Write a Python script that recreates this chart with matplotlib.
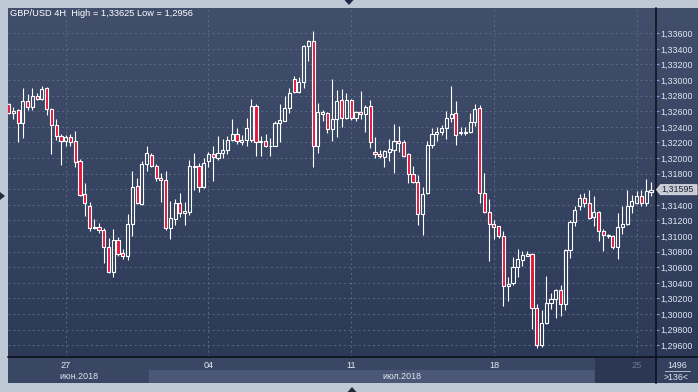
import matplotlib
matplotlib.use("Agg")
import matplotlib.pyplot as plt
from matplotlib.patches import Rectangle, Polygon
from matplotlib.lines import Line2D
from matplotlib.transforms import IdentityTransform
from matplotlib.ticker import FuncFormatter
import numpy as np

plt.rcParams['font.family'] = ['Liberation Sans', 'DejaVu Sans']

# ---------------- data (GBP/USD 4H candles) ----------------
opens = [1.3269, 1.3258, 1.3262, 1.3245, 1.3273, 1.3265, 1.3280, 1.3276, 1.3290, 1.3263,
         1.3242, 1.3228, 1.3222, 1.3227, 1.3222, 1.3196, 1.3154, 1.3139, 1.3111, 1.3112,
         1.3108, 1.3086, 1.3054, 1.3095, 1.3078, 1.3074, 1.3115, 1.3164, 1.3141, 1.3192,
         1.3204, 1.3190, 1.3175, 1.3172, 1.3111, 1.3122, 1.3143, 1.3129, 1.3131, 1.3189,
         1.3190, 1.3163, 1.3196, 1.3205, 1.3200, 1.3206, 1.3210, 1.3223, 1.3231, 1.3221,
         1.3223, 1.3223, 1.3267, 1.3221, 1.3222, 1.3215, 1.3216, 1.3245, 1.3248, 1.3264,
         1.3301, 1.3285, 1.3297, 1.3344, 1.3350, 1.3215, 1.3257, 1.3258, 1.3237, 1.3250,
         1.3275, 1.3251, 1.3275, 1.3252, 1.3259, 1.3257, 1.3267, 1.3208, 1.3205, 1.3202,
         1.3208, 1.3211, 1.3222, 1.3221, 1.3205, 1.3179, 1.3169, 1.3128, 1.3155, 1.3217,
         1.3231, 1.3234, 1.3238, 1.3252, 1.3258, 1.3232, 1.3232, 1.3233, 1.3246, 1.3264,
         1.3155, 1.3131, 1.3116, 1.3113, 1.3100, 1.3036, 1.3040, 1.3060, 1.3069, 1.3075,
         1.3077, 1.3008, 1.2961, 1.2988, 1.3014, 1.3019, 1.3031, 1.3013, 1.3082, 1.3118,
         1.3139, 1.3149, 1.3143, 1.3124, 1.3131, 1.3106, 1.3100, 1.3100, 1.3086, 1.3112,
         1.3116, 1.3139, 1.3143, 1.3151, 1.3143, 1.3157]
highs = [1.3271, 1.3265, 1.3263, 1.3290, 1.3282, 1.3290, 1.3283, 1.3292, 1.3291, 1.3264,
         1.3250, 1.3231, 1.3230, 1.3231, 1.3235, 1.3199, 1.3168, 1.3144, 1.3122, 1.3117,
         1.3110, 1.3097, 1.3109, 1.3099, 1.3084, 1.3128, 1.3183, 1.3174, 1.3196, 1.3216,
         1.3207, 1.3193, 1.3181, 1.3183, 1.3145, 1.3148, 1.3155, 1.3144, 1.3198, 1.3206,
         1.3194, 1.3200, 1.3208, 1.3216, 1.3228, 1.3224, 1.3228, 1.3250, 1.3238, 1.3230,
         1.3252, 1.3276, 1.3269, 1.3228, 1.3231, 1.3226, 1.3248, 1.3269, 1.3280, 1.3290,
         1.3305, 1.3304, 1.3345, 1.3351, 1.33625, 1.3270, 1.3262, 1.3259, 1.3301, 1.3287,
         1.3289, 1.3283, 1.3276, 1.3260, 1.3286, 1.3268, 1.3275, 1.3227, 1.3210, 1.3210,
         1.3225, 1.3244, 1.3241, 1.3223, 1.3207, 1.3190, 1.3178, 1.3163, 1.3222, 1.3238,
         1.3240, 1.3243, 1.3260, 1.3292, 1.3273, 1.3240, 1.3240, 1.3258, 1.3269, 1.3268,
         1.3181, 1.3147, 1.3121, 1.3113, 1.3107, 1.3047, 1.3073, 1.3083, 1.3081, 1.3081,
         1.3078, 1.3013, 1.3005, 1.3049, 1.3027, 1.3032, 1.3037, 1.3083, 1.3121, 1.3139,
         1.3154, 1.3155, 1.3159, 1.3151, 1.3132, 1.3109, 1.3103, 1.3101, 1.3129, 1.3139,
         1.3159, 1.3153, 1.3158, 1.3159, 1.3173, 1.3169]
lows = [1.3257, 1.3250, 1.3221, 1.3226, 1.3262, 1.3262, 1.3275, 1.3275, 1.3255, 1.3205,
        1.3223, 1.3191, 1.3215, 1.3216, 1.3189, 1.3151, 1.3126, 1.3106, 1.3109, 1.3104,
        1.3065, 1.3053, 1.3048, 1.3074, 1.3070, 1.3069, 1.3100, 1.3141, 1.3140, 1.3183,
        1.3189, 1.3171, 1.3144, 1.3108, 1.3096, 1.3114, 1.3125, 1.3114, 1.3127, 1.3159,
        1.3156, 1.3162, 1.3189, 1.3171, 1.3198, 1.3200, 1.3205, 1.3222, 1.3218, 1.3217,
        1.3216, 1.3221, 1.3203, 1.3203, 1.3214, 1.3203, 1.3215, 1.3220, 1.3247, 1.3258,
        1.3283, 1.3284, 1.3290, 1.3325, 1.3189, 1.3206, 1.3247, 1.3232, 1.3222, 1.3227,
        1.3240, 1.3250, 1.3249, 1.3248, 1.3250, 1.3234, 1.3213, 1.3200, 1.3200, 1.3189,
        1.3196, 1.3181, 1.3208, 1.3202, 1.3168, 1.3168, 1.3114, 1.3101, 1.3154, 1.3213,
        1.3222, 1.3229, 1.3224, 1.3246, 1.3217, 1.3230, 1.3230, 1.3232, 1.3241, 1.3143,
        1.3130, 1.3068, 1.3096, 1.3097, 1.3010, 1.3017, 1.3037, 1.3048, 1.3062, 1.3074,
        1.2981, 1.2956, 1.2958, 1.2987, 1.3007, 1.2995, 1.2998, 1.3005, 1.3072, 1.3113,
        1.3134, 1.3137, 1.3122, 1.3113, 1.3094, 1.3081, 1.3098, 1.3083, 1.3070, 1.3103,
        1.3114, 1.3129, 1.3141, 1.3139, 1.3139, 1.3151]
closes = [1.3258, 1.3261, 1.3245, 1.3273, 1.3265, 1.3280, 1.3276, 1.3288, 1.3263, 1.3242,
          1.3228, 1.3222, 1.3227, 1.3221, 1.3195, 1.3153, 1.3142, 1.3111, 1.3112, 1.3108,
          1.3086, 1.3054, 1.3095, 1.3077, 1.3074, 1.3115, 1.3163, 1.3142, 1.3193, 1.3206,
          1.3190, 1.3174, 1.3172, 1.3111, 1.3123, 1.3142, 1.3129, 1.3132, 1.3190, 1.3190,
          1.3163, 1.3194, 1.3205, 1.3201, 1.3206, 1.3210, 1.3223, 1.3231, 1.3222, 1.3223,
          1.3238, 1.3267, 1.3221, 1.3222, 1.3215, 1.3216, 1.3245, 1.3249, 1.3264, 1.3284,
          1.3285, 1.3297, 1.3344, 1.3350, 1.3215, 1.3259, 1.3259, 1.3237, 1.3250, 1.3273,
          1.3251, 1.3275, 1.3252, 1.3259, 1.3256, 1.3265, 1.3220, 1.3205, 1.3203, 1.3209,
          1.3212, 1.3222, 1.3219, 1.3203, 1.3179, 1.3169, 1.3128, 1.3154, 1.3217, 1.3231,
          1.3234, 1.3238, 1.3252, 1.3257, 1.3229, 1.3233, 1.3233, 1.3246, 1.3263, 1.3155,
          1.3131, 1.3115, 1.3112, 1.3100, 1.3036, 1.3039, 1.3060, 1.3070, 1.3076, 1.3077,
          1.3008, 1.2961, 1.2988, 1.3014, 1.3019, 1.3031, 1.3013, 1.3082, 1.3118, 1.3134,
          1.3149, 1.3143, 1.3123, 1.3131, 1.3107, 1.3101, 1.3101, 1.3086, 1.3112, 1.3116,
          1.3139, 1.3145, 1.3151, 1.3143, 1.3158, 1.31595]

price_ticks = [1.296, 1.298, 1.300, 1.302, 1.304, 1.306, 1.308, 1.310, 1.312, 1.314,
               1.316, 1.318, 1.320, 1.322, 1.324, 1.326, 1.328, 1.330, 1.332, 1.334, 1.336]
week_pos = [12, 42, 72, 102, 132]
week_labels = ['27', '04', '11', '18', '25']
month_labels = ['июн.2018', 'июл.2018']
month_start = [-0.13, 29.5]
title = 'GBP/USD 4H  High = 1,33625 Low = 1,2956'
last_label = '1,31595'
bars_total = '1496'
bars_visible = '>136<'

# ---------------- layout ----------------
W, H = 698, 392
fig = plt.figure(figsize=(W / 100, H / 100), dpi=100)
fig.patch.set_facecolor('#bfc8d5')


def box(x0, y0, x1, y1):
    return [x0 / W, 1 - y1 / H, (x1 - x0) / W, (y1 - y0) / H]


def P(x, y):
    return (x, H - y)


X_LO, X_HI = -0.13, 135.96
Y_LO, Y_HI = 1.29450, 1.33924

# gradient background
bg = fig.add_axes(box(8, 8, 698, 357.5), zorder=0)
top = np.array([0x41, 0x4f, 0x6c]) / 255
bot = np.array([0x2c, 0x3a, 0x58]) / 255
t = np.linspace(0, 1, 256)[:, None]
grad = top[None, :] * (1 - t) + bot[None, :] * t
bg.imshow(grad[:, None, :], aspect='auto', extent=(0, 1, 0, 1), interpolation='bilinear')
bg.set_axis_off()

# main chart
ax = fig.add_axes(box(8, 8, 655.5, 357), zorder=2)
ax.patch.set_alpha(0)
ax.set_xlim(X_LO, X_HI)
ax.set_ylim(Y_LO, Y_HI)
for s in ax.spines.values():
    s.set_visible(False)

grid_c = '#5a6985'
for p in price_ticks:
    ax.axhline(p, color=grid_c, lw=0.7, ls=(0, (2, 3)), zorder=1)
for w in week_pos:
    ax.axvline(w, color=grid_c, lw=0.7, ls=(0, (2, 3)), zorder=1)

red = '#e3163c'
bw = 0.66
for i, (o, h, l, c) in enumerate(zip(opens, highs, lows, closes)):
    up = c >= o
    lo_b, hi_b = min(o, c), max(o, c)
    if h > hi_b:
        ax.plot([i, i], [hi_b, h], color='white', lw=0.8, solid_capstyle='butt', zorder=3)
    if l < lo_b:
        ax.plot([i, i], [l, lo_b], color='white', lw=0.8, solid_capstyle='butt', zorder=3)
    ax.add_patch(Rectangle((i - bw / 2, lo_b), bw, max(hi_b - lo_b, 0.00003),
                           facecolor='none' if up else red, edgecolor='white',
                           lw=0.8, zorder=4))

ax.set_xticks([])
ax.yaxis.tick_right()
ax.set_yticks(price_ticks)
ax.yaxis.set_major_formatter(FuncFormatter(lambda v, p: f"{v:.5f}".replace('.', ',')))
ax.tick_params(axis='y', length=2.2, width=0.8, color='#7f9bd0', labelsize=6.4,
               labelcolor='#e1e8f3', pad=1.2)

# date panel
dax = fig.add_axes(box(8, 357.5, 655.5, 383), zorder=1)
dax.set_xlim(X_LO, X_HI)
dax.set_ylim(0, 2)
dax.set_axis_off()
dax.add_patch(Rectangle((X_LO, 0), X_HI - X_LO, 2, color='#3a4764', lw=0))
dax.add_patch(Rectangle((month_start[1], 0), X_HI - month_start[1], 1.02, color='#4a5776', lw=0))
dax.add_patch(Rectangle((123.2, 0), X_HI - 123.2, 2, color='#2c3853', lw=0))
for w, lab in zip(week_pos, week_labels):
    dax.text(w, 1.38, lab, ha='center', va='center', fontsize=6.6,
             color='#6d7891' if w > 123 else '#e4eaf3')
bounds = month_start + [X_HI]
for k, lab in enumerate(month_labels):
    dax.text((bounds[k] + bounds[k + 1]) / 2, 0.48, lab, ha='center', va='center',
             fontsize=6.4, color='#dfe6f0')

# info panel bottom right
fig.add_artist(Rectangle(P(656, 383), 42, 25.5, transform=IdentityTransform(),
                         color='#34415e', lw=0, zorder=1))
fig.text(677.5 / W, 1 - 365 / H, bars_total, ha='center', va='center', fontsize=6.3,
         color='#e1e8f3', zorder=6)
fig.add_artist(Line2D([665 / W, 690 / W], [1 - 371 / H] * 2, color='#c8d0dc', lw=0.6,
                      transform=fig.transFigure, zorder=6))
fig.text(676.5 / W, 1 - 377.5 / H, bars_visible, ha='center', va='center', fontsize=6.3,
         color='#e1e8f3', zorder=6)

# separators
fig.add_artist(Line2D([655.7 / W] * 2, [1 - 8 / H, 1 - 383 / H], color='#0b0e16', lw=1.1,
                      transform=fig.transFigure, zorder=7))
fig.add_artist(Line2D([8 / W, 1], [1 - 357.2 / H] * 2, color='#0b0e16', lw=1.1,
                      transform=fig.transFigure, zorder=7))

# current price marker
fig.canvas.draw()
yd = ax.transData.transform((0, closes[-1]))[1]
yc = H - yd
marker = Polygon([P(656.5, yc), P(660.5, yc - 5), P(697, yc - 5), P(697, yc + 5),
                  P(660.5, yc + 5)], closed=True, transform=IdentityTransform(),
                 facecolor='#c6cbd4', edgecolor='#e4e8ee', lw=0.6, zorder=8)
fig.add_artist(marker)
fig.text(661 / W, 1 - yc / H, last_label, ha='left', va='center', fontsize=6.4,
         color='#1b2232', zorder=9)

# title
fig.text(10 / W, 1 - 13.5 / H, title, ha='left', va='center', fontsize=6.7,
         color='white', zorder=9)

# small navigation triangles
tri_c = '#1f2b42'
for pts in ([P(344.5, 0), P(353.5, 0), P(349, 5)],
            [P(0, 192), P(0, 200), P(5, 196)],
            [P(347.5, 392), P(356.5, 392), P(352, 387)]):
    fig.add_artist(Polygon(pts, closed=True, transform=IdentityTransform(),
                           facecolor=tri_c, edgecolor='none', zorder=9))

fig.savefig('out.png', dpi=100, facecolor=fig.get_facecolor())
